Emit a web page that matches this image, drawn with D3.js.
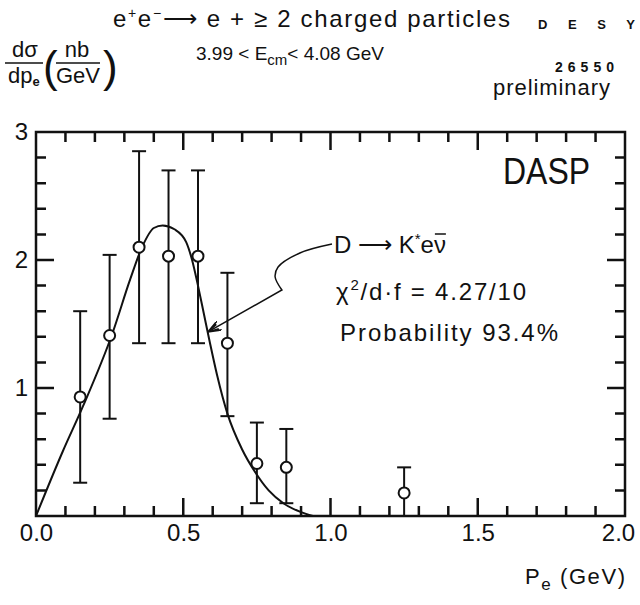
<!DOCTYPE html>
<html>
<head>
<meta charset="utf-8">
<script src="https://cdn.jsdelivr.net/npm/d3@7"></script>
<style>
  body { margin: 0; background: #fff; }
  text { font-family: "Liberation Sans", Arial, sans-serif; fill: #111; }
</style>
</head>
<body>
<svg id="chart" width="640" height="605"></svg>
<script>
// measured points (electron momentum, GeV) and d sigma / dp_e (nb/GeV)
const pe     = [0.15, 0.25, 0.35, 0.45, 0.55, 0.65, 0.75, 0.85, 1.25];
const sigma  = [0.93, 1.41, 2.10, 2.03, 2.03, 1.35, 0.41, 0.38, 0.18];
const errTop = [1.60, 2.04, 2.85, 2.70, 2.70, 1.90, 0.73, 0.68, 0.38];
const errBot = [0.26, 0.76, 1.35, 1.35, 1.35, 0.78, 0.10, 0.10, 0.00];

// fitted D -> K* e nu curve
const fitP = [0, 0.09, 0.16, 0.26, 0.32, 0.36, 0.40, 0.43, 0.47, 0.51, 0.53, 0.55, 0.57, 0.59, 0.615, 0.65, 0.70, 0.745, 0.79, 0.84, 0.90, 0.94];
const fitS = [0, 0.50, 0.86, 1.43, 1.85, 2.10, 2.25, 2.27, 2.24, 2.14, 2.00, 1.80, 1.58, 1.36, 1.10, 0.80, 0.52, 0.34, 0.20, 0.10, 0.03, 0];

// arrow from the label to the curve
const arrowP = [1.005, 0.896, 0.822, 0.812, 0.835, 0.584];
const arrowS = [2.125, 2.055, 1.945, 1.867, 1.766, 1.438];

const xMajor = [0, 0.5, 1.0, 1.5, 2.0];
const xMinor = d3.range(1, 20).map(i => i / 10);
const yMajor = [1, 2, 3];
const yMinor = d3.range(1, 15).map(i => i / 5);

const svg = d3.select("#chart");
const x = d3.scaleLinear().domain([0, 2]).range([36, 625]);
const y = d3.scaleLinear().domain([0, 3]).range([516, 132]);

// frame
svg.append("path")
  .attr("d", `M${x(0)},${y(3)}H${x(2)}V${y(0)}H${x(0)}Z`)
  .style("fill", "none").attr("stroke", "#111").attr("stroke-width", 2.5);

// tick labels from d3 axes
function labels(g) {
  g.select(".domain").remove();
  g.selectAll(".tick line").remove();
  g.selectAll(".tick text").style("font-size", "24px").attr("fill", "#111");
}
svg.append("g").attr("transform", "translate(0,516)")
  .call(d3.axisBottom(x).tickValues(xMajor).tickSize(0).tickPadding(8).tickFormat(d3.format(".1f")))
  .call(labels)
  .call(g => g.selectAll(".tick text").filter(d => d === 2).attr("dx", -7));
svg.append("g").attr("transform", "translate(36,0)")
  .call(d3.axisLeft(y).tickValues(yMajor).tickSize(0).tickPadding(8).tickFormat(d3.format("d")))
  .call(labels);

// inward ticks on all four sides, as one path
const isMajorX = v => Math.abs(v * 2 - Math.round(v * 2)) < 1e-6;
const isMajorY = v => Math.abs(v - Math.round(v)) < 1e-6;
const tp = d3.path();
xMinor.forEach(v => {
  const len = isMajorX(v) ? 18 : 10;
  tp.moveTo(x(v), y(0)); tp.lineTo(x(v), y(0) - len);
  tp.moveTo(x(v), y(3)); tp.lineTo(x(v), y(3) + len);
});
yMinor.forEach(v => {
  const len = isMajorY(v) ? 18 : 10;
  tp.moveTo(x(0), y(v)); tp.lineTo(x(0) + len, y(v));
  tp.moveTo(x(2), y(v)); tp.lineTo(x(2) - len, y(v));
});
svg.append("path").attr("class", "ticks").attr("d", tp.toString())
  .style("fill", "none").attr("stroke", "#111").attr("stroke-width", 2.5);

// fit curve
const fitLine = d3.line().x(d => x(d[0])).y(d => y(d[1])).curve(d3.curveMonotoneX);
svg.append("path")
  .datum(fitP.map((p, i) => [p, fitS[i]]))
  .attr("d", fitLine)
  .style("fill", "none").attr("stroke", "#111").attr("stroke-width", 2);

// error bars
const pts = pe.map((p, i) => ({ p, s: sigma[i], hi: errTop[i], lo: errBot[i] }));
const bars = svg.append("g").attr("stroke", "#111").attr("stroke-width", 2);
bars.selectAll("line.err").data(pts).join("line").attr("class", "err")
  .attr("x1", d => x(d.p)).attr("x2", d => x(d.p))
  .attr("y1", d => y(d.hi)).attr("y2", d => y(d.lo));
bars.selectAll("line.capHi").data(pts).join("line").attr("class", "capHi")
  .attr("x1", d => x(d.p) - 7).attr("x2", d => x(d.p) + 7)
  .attr("y1", d => y(d.hi)).attr("y2", d => y(d.hi));
bars.selectAll("line.capLo").data(pts.filter(d => d.lo > 0)).join("line").attr("class", "capLo")
  .attr("x1", d => x(d.p) - 7).attr("x2", d => x(d.p) + 7)
  .attr("y1", d => y(d.lo)).attr("y2", d => y(d.lo));

svg.append("g").selectAll("circle").data(pts).join("circle")
  .attr("cx", d => x(d.p)).attr("cy", d => y(d.s)).attr("r", 5.5)
  .attr("fill", "#fff").attr("stroke", "#111").attr("stroke-width", 2);

// arrow
svg.append("defs").append("marker")
  .attr("id", "head").attr("viewBox", "0 0 14 10").attr("refX", 13).attr("refY", 5)
  .attr("markerWidth", 14).attr("markerHeight", 10).attr("markerUnits", "userSpaceOnUse")
  .attr("orient", "auto")
  .append("path").attr("d", "M0,0 L13,5 L0,10 M2,2.5 L13,5 L2,7.5")
  .style("fill", "none").attr("stroke", "#111").attr("stroke-width", 1.6);

const bend = arrowP.slice(0, 5).map((p, i) => [p, arrowS[i]]);
const arrowPath = d3.line().x(d => x(d[0])).y(d => y(d[1])).curve(d3.curveCatmullRom)(bend)
  + "L" + x(arrowP[5]) + "," + y(arrowS[5]);
svg.append("path").attr("d", arrowPath)
  .style("fill", "none").attr("stroke", "#111").attr("stroke-width", 1.5)
  .attr("marker-end", "url(#head)");

// text inside the plot
svg.append("text").attr("x", 503).attr("y", 184).style("font-size", "36px")
  .attr("textLength", 87).attr("lengthAdjust", "spacingAndGlyphs").text("DASP");

const t1 = svg.append("text").attr("x", 334).attr("y", 253).style("font-size", "24px");
t1.append("tspan").text("D \u27F6 K");
t1.append("tspan").attr("dy", -9).style("font-size", "15px").text("*");
t1.append("tspan").attr("dy", 9).text("e");
const nu = t1.append("tspan").text("\u03BD");
const nb = nu.node().getBBox();
svg.append("line").attr("x1", nb.x + 1).attr("x2", nb.x + nb.width)
  .attr("y1", nb.y + 3).attr("y2", nb.y + 3).attr("stroke", "#111").attr("stroke-width", 1.5);

const t2 = svg.append("text").attr("x", 336).attr("y", 300).style("font-size", "24px")
  .attr("textLength", 190);
t2.append("tspan").text("\u03C7");
t2.append("tspan").attr("dy", -10).style("font-size", "15px").text("2");
t2.append("tspan").attr("dy", 10).text("/d\u00B7f = 4.27/10");

svg.append("text").attr("x", 340).attr("y", 341).style("font-size", "24px")
  .attr("textLength", 218).text("Probability 93.4%");

// header texts
const title = svg.append("text").attr("x", 113).attr("y", 27).style("font-size", "24px")
  .attr("textLength", 397);
title.append("tspan").text("e");
title.append("tspan").attr("dy", -9).style("font-size", "14px").text("+");
title.append("tspan").attr("dy", 9).text("e");
title.append("tspan").attr("dy", -9).style("font-size", "14px").text("\u2212");
title.append("tspan").attr("dy", 9).text("\u27F6 e + \u2265 2 charged particles");

svg.append("text").attr("x", 538).attr("y", 29).style("font-size", "13px").style("font-weight", "bold")
  .attr("textLength", 97).text("DESY");

const t3 = svg.append("text").attr("x", 196).attr("y", 60).style("font-size", "19px");
t3.append("tspan").text("3.99 < E");
t3.append("tspan").attr("dy", 5).style("font-size", "15px").text("cm");
t3.append("tspan").attr("dy", -5).text("< 4.08 GeV");

svg.append("text").attr("x", 555).attr("y", 72).style("font-size", "14px").style("font-weight", "bold")
  .attr("textLength", 59).text("26550");
svg.append("text").attr("x", 493).attr("y", 95).style("font-size", "22px")
  .attr("textLength", 117).text("preliminary");

// y label: d sigma / dp_e (nb / GeV)
const yl = svg.append("g");
yl.append("text").attr("x", 25).attr("y", 57).attr("text-anchor", "middle").style("font-size", "22px").text("d\u03C3");
yl.append("line").attr("x1", 5).attr("x2", 43).attr("y1", 63).attr("y2", 63).attr("stroke", "#111").attr("stroke-width", 1.5);
const dp = yl.append("text").attr("x", 8).attr("y", 83).style("font-size", "22px");
dp.append("tspan").text("dp");
dp.append("tspan").attr("dy", 3).style("font-size", "13px").style("font-weight", "bold").text("e");
yl.append("text").attr("x", 43).attr("y", 82).style("font-size", "44px").text("(");
yl.append("text").attr("x", 77).attr("y", 57).attr("text-anchor", "middle").style("font-size", "22px").text("nb");
yl.append("line").attr("x1", 56).attr("x2", 100).attr("y1", 63).attr("y2", 63).attr("stroke", "#111").attr("stroke-width", 1.5);
yl.append("text").attr("x", 78).attr("y", 83).attr("text-anchor", "middle").style("font-size", "22px").text("GeV");
yl.append("text").attr("x", 103).attr("y", 82).style("font-size", "44px").text(")");

// x label
const xl = svg.append("text").attr("x", 525).attr("y", 584).style("font-size", "22px")
  .attr("textLength", 100);
xl.append("tspan").text("P");
xl.append("tspan").attr("dy", 6).style("font-size", "17px").text("e");
xl.append("tspan").attr("dy", -6).text("  (GeV)");
</script>
</body>
</html>
